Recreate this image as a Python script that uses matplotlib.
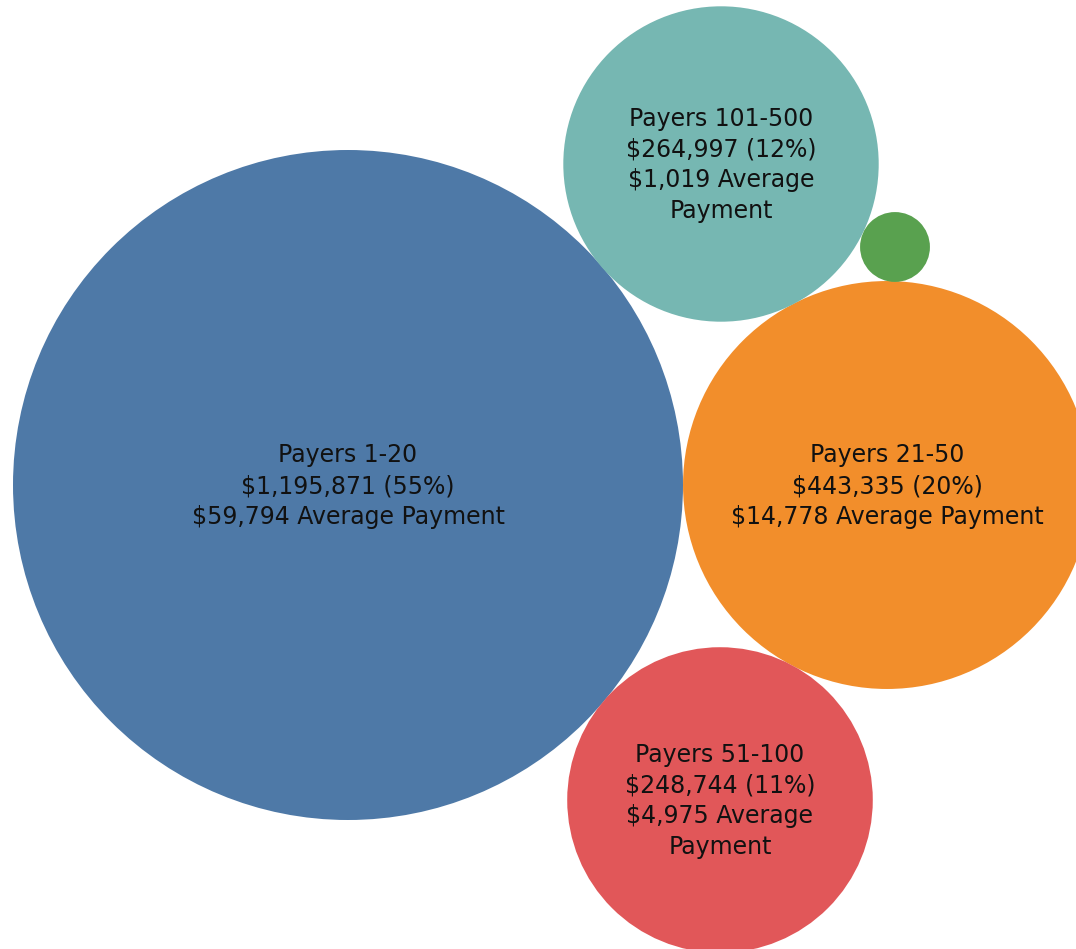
import textwrap
import numpy as np
import matplotlib
matplotlib.use("Agg")
import matplotlib.pyplot as plt
from matplotlib.patches import Circle

# data
groups = ["Payers 1-20", "Payers 21-50", "Payers 51-100", "Payers 101-500", "Payers 501+"]
totals = [1195871, 443335, 248744, 264997, 13000]
percents = [55, 20, 11, 12, 1]
avg_payment = [59794, 14778, 4975, 1019, None]
colors = ["#4e79a7", "#f28e2b", "#e15759", "#76b7b2", "#59a14f"]

# packed layout (circle centres, in pixels)
centres = [(348, 485), (887, 485), (720, 800), (721, 164), (895, 247)]

W, H = 1076, 949
fig = plt.figure(figsize=(W / 100, H / 100), dpi=100)
ax = fig.add_axes([0, 0, 1, 1])
ax.set_xlim(0, W)
ax.set_ylim(H, 0)
ax.set_aspect("equal")
ax.axis("off")

# radius proportional to sqrt(value)
scale = 335 / np.sqrt(totals[0])

for name, val, pct, avg, col, (cx, cy) in zip(groups, totals, percents, avg_payment, colors, centres):
    r = scale * np.sqrt(val)
    ax.add_patch(Circle((cx, cy), r, facecolor=col, edgecolor="none"))
    if avg is None:
        continue
    lines = [name, "${:,} ({}%)".format(val, pct), "${:,} Average Payment".format(avg)]
    if r < 180:
        lines = [textwrap.fill(l, 16) for l in lines]
    ax.text(cx, cy + 1, "\n".join(lines), ha="center", va="center",
            fontsize=17, color="#111111", linespacing=1.36)

fig.savefig("out.png", dpi=100)
